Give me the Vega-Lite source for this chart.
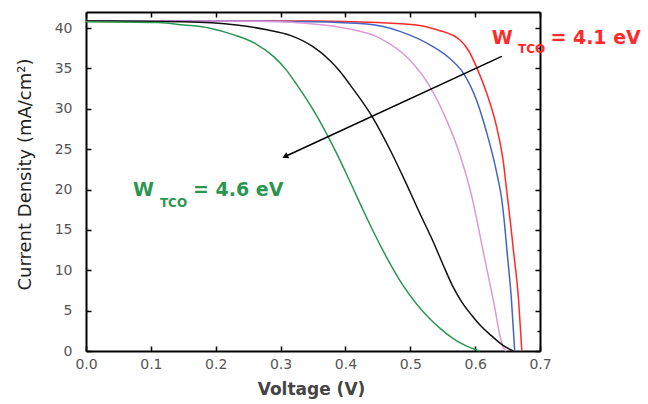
{
  "$schema": "https://vega.github.io/schema/vega-lite/v6.json",
  "autosize": {"type": "none"},
  "padding": {"left": 86, "top": 12, "right": 108, "bottom": 53},
  "width": 454,
  "height": 339,
  "background": "white",
  "config": {"view": {"stroke": null}},
  "datasets": {
    "curves": [
      {"series": "4.1 eV", "V": 0, "J": 40.9},
      {"series": "4.1 eV", "V": 0.2, "J": 40.9},
      {"series": "4.1 eV", "V": 0.35, "J": 40.9},
      {"series": "4.1 eV", "V": 0.45, "J": 40.7},
      {"series": "4.1 eV", "V": 0.51, "J": 40.4},
      {"series": "4.1 eV", "V": 0.541, "J": 39.8},
      {"series": "4.1 eV", "V": 0.577, "J": 38.5},
      {"series": "4.1 eV", "V": 0.59, "J": 37.2},
      {"series": "4.1 eV", "V": 0.602, "J": 35.2},
      {"series": "4.1 eV", "V": 0.618, "J": 31.9},
      {"series": "4.1 eV", "V": 0.633, "J": 27.8},
      {"series": "4.1 eV", "V": 0.643, "J": 23.7},
      {"series": "4.1 eV", "V": 0.649, "J": 19.6},
      {"series": "4.1 eV", "V": 0.655, "J": 15.5},
      {"series": "4.1 eV", "V": 0.659, "J": 12.5},
      {"series": "4.1 eV", "V": 0.667, "J": 6.3},
      {"series": "4.1 eV", "V": 0.672, "J": 0},
      {"series": "curve 2", "V": 0, "J": 40.9},
      {"series": "curve 2", "V": 0.2, "J": 40.9},
      {"series": "curve 2", "V": 0.35, "J": 40.8},
      {"series": "curve 2", "V": 0.433, "J": 40.5},
      {"series": "curve 2", "V": 0.484, "J": 39.6},
      {"series": "curve 2", "V": 0.535, "J": 37.7},
      {"series": "curve 2", "V": 0.56, "J": 36.3},
      {"series": "curve 2", "V": 0.582, "J": 34.4},
      {"series": "curve 2", "V": 0.602, "J": 31.1},
      {"series": "curve 2", "V": 0.618, "J": 27.0},
      {"series": "curve 2", "V": 0.634, "J": 21.8},
      {"series": "curve 2", "V": 0.641, "J": 18.8},
      {"series": "curve 2", "V": 0.6455, "J": 15.6},
      {"series": "curve 2", "V": 0.649, "J": 12.5},
      {"series": "curve 2", "V": 0.656, "J": 6.3},
      {"series": "curve 2", "V": 0.661, "J": 0},
      {"series": "curve 3", "V": 0, "J": 40.9},
      {"series": "curve 3", "V": 0.2, "J": 40.9},
      {"series": "curve 3", "V": 0.3, "J": 40.8},
      {"series": "curve 3", "V": 0.339, "J": 40.6},
      {"series": "curve 3", "V": 0.4, "J": 40.0},
      {"series": "curve 3", "V": 0.452, "J": 38.8},
      {"series": "curve 3", "V": 0.5, "J": 36.0},
      {"series": "curve 3", "V": 0.53, "J": 32.8},
      {"series": "curve 3", "V": 0.556, "J": 28.6},
      {"series": "curve 3", "V": 0.577, "J": 24.2},
      {"series": "curve 3", "V": 0.595, "J": 19.1},
      {"series": "curve 3", "V": 0.612, "J": 12.5},
      {"series": "curve 3", "V": 0.628, "J": 6.3},
      {"series": "curve 3", "V": 0.643, "J": 0.5},
      {"series": "curve 3", "V": 0.648, "J": 0},
      {"series": "curve 4", "V": 0, "J": 40.9},
      {"series": "curve 4", "V": 0.15, "J": 40.8},
      {"series": "curve 4", "V": 0.232, "J": 40.4},
      {"series": "curve 4", "V": 0.279, "J": 39.8},
      {"series": "curve 4", "V": 0.315, "J": 39.1},
      {"series": "curve 4", "V": 0.35, "J": 37.7},
      {"series": "curve 4", "V": 0.376, "J": 36.0},
      {"series": "curve 4", "V": 0.392, "J": 34.6},
      {"series": "curve 4", "V": 0.407, "J": 33.0},
      {"series": "curve 4", "V": 0.443, "J": 28.8},
      {"series": "curve 4", "V": 0.469, "J": 24.9},
      {"series": "curve 4", "V": 0.494, "J": 20.7},
      {"series": "curve 4", "V": 0.515, "J": 17.0},
      {"series": "curve 4", "V": 0.535, "J": 13.6},
      {"series": "curve 4", "V": 0.551, "J": 10.6},
      {"series": "curve 4", "V": 0.565, "J": 8.1},
      {"series": "curve 4", "V": 0.58, "J": 6.0},
      {"series": "curve 4", "V": 0.595, "J": 4.4},
      {"series": "curve 4", "V": 0.61, "J": 3.0},
      {"series": "curve 4", "V": 0.625, "J": 1.9},
      {"series": "curve 4", "V": 0.643, "J": 0.7},
      {"series": "curve 4", "V": 0.659, "J": 0},
      {"series": "4.6 eV", "V": 0, "J": 40.8},
      {"series": "4.6 eV", "V": 0.111, "J": 40.7},
      {"series": "4.6 eV", "V": 0.15, "J": 40.4},
      {"series": "4.6 eV", "V": 0.191, "J": 40.0},
      {"series": "4.6 eV", "V": 0.227, "J": 39.2},
      {"series": "4.6 eV", "V": 0.263, "J": 38.0},
      {"series": "4.6 eV", "V": 0.289, "J": 36.5},
      {"series": "4.6 eV", "V": 0.309, "J": 34.8},
      {"series": "4.6 eV", "V": 0.325, "J": 33.0},
      {"series": "4.6 eV", "V": 0.34, "J": 31.2},
      {"series": "4.6 eV", "V": 0.356, "J": 29.1},
      {"series": "4.6 eV", "V": 0.369, "J": 27.2},
      {"series": "4.6 eV", "V": 0.38, "J": 25.5},
      {"series": "4.6 eV", "V": 0.39, "J": 23.9},
      {"series": "4.6 eV", "V": 0.407, "J": 21.0},
      {"series": "4.6 eV", "V": 0.427, "J": 17.5},
      {"series": "4.6 eV", "V": 0.448, "J": 14.0},
      {"series": "4.6 eV", "V": 0.469, "J": 10.8},
      {"series": "4.6 eV", "V": 0.489, "J": 8.1},
      {"series": "4.6 eV", "V": 0.51, "J": 5.8},
      {"series": "4.6 eV", "V": 0.53, "J": 4.0},
      {"series": "4.6 eV", "V": 0.546, "J": 2.8},
      {"series": "4.6 eV", "V": 0.565, "J": 1.6},
      {"series": "4.6 eV", "V": 0.587, "J": 0.6},
      {"series": "4.6 eV", "V": 0.607, "J": 0}
    ],
    "labels": [
      {"series": "4.1 eV", "part": "main", "V": 0.6255, "J": 38.0, "text": "W"},
      {"series": "4.1 eV", "part": "sub", "V": 0.666, "J": 36.9, "text": "TCO"},
      {"series": "4.1 eV", "part": "main", "V": 0.716, "J": 38.0, "text": "= 4.1 eV"},
      {"series": "4.6 eV", "part": "main", "V": 0.0725, "J": 19.15, "text": "W"},
      {"series": "4.6 eV", "part": "sub", "V": 0.114, "J": 17.85, "text": "TCO"},
      {"series": "4.6 eV", "part": "main", "V": 0.165, "J": 19.2, "text": "= 4.6 eV"}
    ],
    "arrow": [
      {"end": "tail", "V": 0.641, "J": 36.5},
      {"end": "head", "V": 0.307, "J": 24.1}
    ]
  },
  "layer": [
    {
      "layer": [
        {
          "data": {"name": "curves"},
          "mark": {"type": "line", "strokeWidth": 1.5, "interpolate": "monotone"},
          "encoding": {
            "x": {
              "field": "V", "type": "quantitative",
              "scale": {"domain": [0, 0.7], "nice": false, "zero": false},
              "axis": {
                "values": [0, 0.1, 0.2, 0.3, 0.4, 0.5, 0.6, 0.7],
                "format": ".1f",
                "grid": false,
                "tickSize": -5, "tickWidth": 1.5, "tickColor": "black",
                "domainColor": "black", "domainWidth": 2,
                "labelPadding": 11, "labelFont": "DejaVu Sans", "labelFontSize": 14, "labelColor": "#555555",
                "labelFlush": false,
                "title": "Voltage (V)",
                "titleFont": "DejaVu Sans", "titleFontSize": 17, "titleFontWeight": "bold", "titleColor": "#444444",
                "titleX": 225, "titleY": 30, "titleBaseline": "top"
              }
            },
            "y": {
              "field": "J", "type": "quantitative",
              "scale": {"domain": [0, 42], "nice": false, "zero": false},
              "axis": {
                "values": [0, 2.5, 5, 7.5, 10, 12.5, 15, 17.5, 20, 22.5, 25, 27.5, 30, 32.5, 35, 37.5, 40],
                "labelExpr": "datum.value % 5 === 0 ? datum.label : ''",
                "grid": false,
                "tickSize": {"condition": {"test": "datum.value % 5 === 0", "value": -5}, "value": -3},
                "tickWidth": 1.5, "tickColor": "black",
                "domainColor": "black", "domainWidth": 2,
                "labelPadding": 19, "labelFont": "DejaVu Sans", "labelFontSize": 14, "labelColor": "#555555",
                "labelFlush": false,
                "title": "Current Density (mA/cm²)",
                "titleFont": "DejaVu Sans", "titleFontSize": 18, "titleFontWeight": "normal", "titleColor": "#222222",
                "titleX": -52, "titleY": 162, "titleAngle": -90, "titleBaseline": "bottom", "titleAlign": "center"
              }
            },
            "color": {
              "field": "series", "type": "nominal",
              "scale": {"domain": ["4.1 eV", "curve 2", "curve 3", "curve 4", "4.6 eV"], "range": ["#ff2a2a", "#4464c4", "#dd98d6", "#111111", "#2a9650"]},
              "legend": null
            },
            "detail": {"field": "series"}
          }
        },
        {
          "data": {"name": "arrow"},
          "mark": {"type": "line", "color": "black", "strokeWidth": 1.5},
          "encoding": {
            "x": {"field": "V", "type": "quantitative"},
            "y": {"field": "J", "type": "quantitative"}
          }
        },
        {
          "data": {"name": "arrow"},
          "transform": [{"filter": "datum.end === 'head'"}],
          "mark": {"type": "point", "shape": "triangle-up", "filled": true, "color": "black", "opacity": 1, "size": 45, "angle": 245},
          "encoding": {
            "x": {"field": "V", "type": "quantitative"},
            "y": {"field": "J", "type": "quantitative"}
          }
        },
        {
          "data": {"name": "labels"},
          "transform": [{"filter": "datum.part === 'main'"}],
          "mark": {"type": "text", "align": "left", "baseline": "alphabetic", "font": "DejaVu Sans", "fontWeight": "bold", "fontSize": 19},
          "encoding": {
            "x": {"field": "V", "type": "quantitative"},
            "y": {"field": "J", "type": "quantitative"},
            "text": {"field": "text"},
            "color": {
              "field": "series", "type": "nominal",
              "scale": {"domain": ["4.1 eV", "curve 2", "curve 3", "curve 4", "4.6 eV"], "range": ["#ff2a2a", "#4464c4", "#dd98d6", "#111111", "#2a9650"]},
              "legend": null
            }
          }
        },
        {
          "data": {"name": "labels"},
          "transform": [{"filter": "datum.part === 'sub'"}],
          "mark": {"type": "text", "align": "left", "baseline": "alphabetic", "font": "DejaVu Sans", "fontWeight": "bold", "fontSize": 12},
          "encoding": {
            "x": {"field": "V", "type": "quantitative"},
            "y": {"field": "J", "type": "quantitative"},
            "text": {"field": "text"},
            "color": {
              "field": "series", "type": "nominal",
              "scale": {"domain": ["4.1 eV", "curve 2", "curve 3", "curve 4", "4.6 eV"], "range": ["#ff2a2a", "#4464c4", "#dd98d6", "#111111", "#2a9650"]},
              "legend": null
            }
          }
        }
      ]
    },
    {
      "data": {"name": "arrow"},
      "mark": {"type": "point", "opacity": 0},
      "encoding": {
        "x": {
          "field": "V", "type": "quantitative",
          "axis": {
            "orient": "top",
            "values": [0, 0.1, 0.2, 0.3, 0.4, 0.5, 0.6, 0.7],
            "labels": false, "title": null, "grid": false,
            "tickSize": -5, "tickWidth": 1.5, "tickColor": "black",
            "domainColor": "black", "domainWidth": 2
          }
        },
        "y": {
          "field": "J", "type": "quantitative",
          "axis": {
            "orient": "right",
            "values": [0, 2.5, 5, 7.5, 10, 12.5, 15, 17.5, 20, 22.5, 25, 27.5, 30, 32.5, 35, 37.5, 40],
            "labels": false, "title": null, "grid": false,
            "tickSize": {"condition": {"test": "datum.value % 5 === 0", "value": -5}, "value": -3},
            "tickWidth": 1.5, "tickColor": "black",
            "domainColor": "black", "domainWidth": 2
          }
        }
      }
    }
  ],
  "resolve": {"axis": {"x": "independent", "y": "independent"}}
}
